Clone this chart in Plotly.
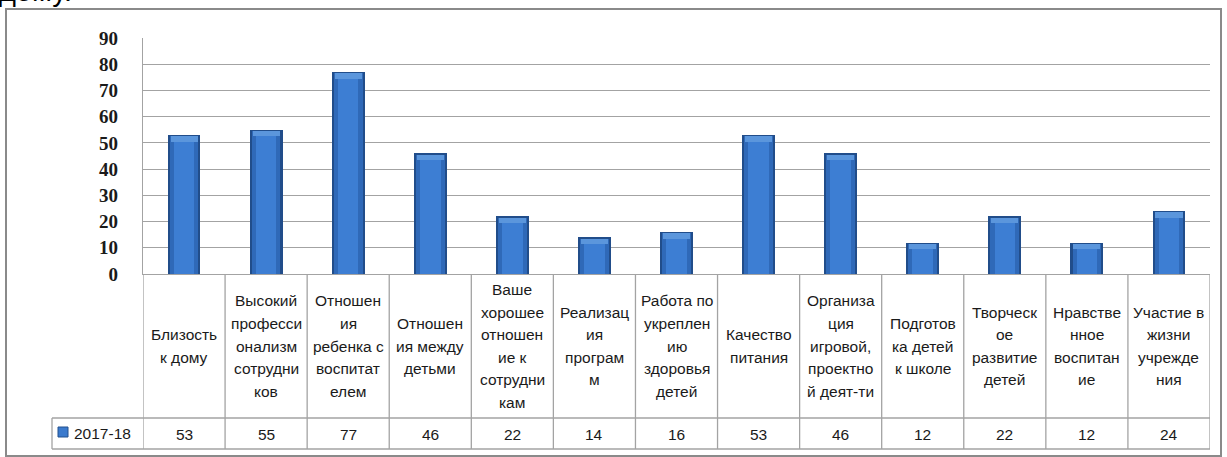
import plotly.graph_objects as go

# ---- data ----
categories = [
    "Близость\nк дому",
    "Высокий\nпрофесси\nонализм\nсотрудни\nков",
    "Отношен\nия\nребенка с\nвоспитат\nелем",
    "Отношен\nия между\nдетьми",
    "Ваше\nхорошее\nотношен\nие к\nсотрудни\nкам",
    "Реализац\nия\nпрограм\nм",
    "Работа по\nукреплен\nию\nздоровья\nдетей",
    "Качество\nпитания",
    "Организа\nция\nигровой,\nпроектно\nй деят-ти",
    "Подготов\nка детей\nк школе",
    "Творческ\nое\nразвитие\nдетей",
    "Нравстве\nнное\nвоспитан\nие",
    "Участие в\nжизни\nучрежде\nния",
]
series_name = "2017-18"
values = [53, 55, 77, 46, 22, 14, 16, 53, 46, 12, 22, 12, 24]
y_ticks = [0, 10, 20, 30, 40, 50, 60, 70, 80, 90]

# ---- layout geometry (pixels) ----
W, H = 1227, 457
L, R, T, B = 143, 1210, 38, 274
pw, ph = R - L, B - T
n = len(categories)

def py_p(py):   # pixel y -> paper y
    return (B - py) / ph

def px_p(px):   # pixel x -> paper x
    return (px - L) / pw

xs = list(range(n))
grid = "#A3A3A3"
tfont = dict(family="Liberation Sans, Arial, sans-serif", size=15.5, color="#1a1a1a")

fig = go.Figure()
# bar body: dark edge, mid tone, lighter core, top bevel highlight
fig.add_trace(go.Bar(x=xs, y=values, width=0.40, marker=dict(color="#214D8A", line=dict(width=0)),
                     name=series_name, showlegend=False, hoverinfo="skip"))
fig.add_trace(go.Bar(x=xs, y=[v - 0.5 for v in values], width=0.35,
                     marker=dict(color="#2F69B8", line=dict(width=0)), showlegend=False, hoverinfo="skip"))
fig.add_trace(go.Bar(x=xs, y=[v - 0.8 for v in values], width=0.25,
                     marker=dict(color="#3D7ED3", line=dict(width=0)), showlegend=False, hoverinfo="skip"))
fig.add_trace(go.Bar(x=xs, y=[2.0] * n, base=[v - 2.5 for v in values], width=0.33,
                     marker=dict(color="#5B96DC", line=dict(width=0)), showlegend=False, hoverinfo="skip"))

shapes = []
line = dict(color=grid, width=1.3)
y_hdr = py_p(418)
y_bot = py_p(449)
# vertical table lines (category boundaries)
for i in range(n + 1):
    shapes.append(dict(type="line", xref="x", yref="paper", x0=i - 0.5, x1=i - 0.5,
                       y0=0, y1=y_bot, line=line, layer="above"))
# horizontal lines of the value row (incl. legend cell)
x_leg = px_p(52)
for yy in (y_hdr, y_bot):
    shapes.append(dict(type="line", xref="paper", yref="paper", x0=x_leg, x1=1,
                       y0=yy, y1=yy, line=line))
shapes.append(dict(type="line", xref="paper", yref="paper", x0=x_leg, x1=x_leg,
                   y0=y_hdr, y1=y_bot, line=line))
# legend marker square
shapes.append(dict(type="rect", xref="paper", yref="paper", x0=px_p(58), x1=px_p(68),
                   y0=py_p(437), y1=py_p(427), fillcolor="#3B7ACD",
                   line=dict(color="#22508E", width=1)))
# outer chart border
shapes.append(dict(type="rect", xref="paper", yref="paper", x0=px_p(6), x1=px_p(1221),
                   y0=py_p(456), y1=py_p(9), line=dict(color="#8A8A8A", width=2)))

annotations = []
line_gap = 22.6 / ph
y_center = py_p(346)
for i, cat in enumerate(categories):
    parts = cat.split("\n")
    k = len(parts)
    for j, p in enumerate(parts):
        yy = y_center + ((k - 1) / 2 - j) * line_gap
        annotations.append(dict(x=i, y=yy, xref="x", yref="paper", text=p, showarrow=False,
                                font=tfont, xanchor="center", yanchor="middle"))
    annotations.append(dict(x=i, y=py_p(434), xref="x", yref="paper", text=str(values[i]),
                            showarrow=False, font=tfont, xanchor="center", yanchor="middle"))
annotations.append(dict(x=px_p(72), y=py_p(433), xref="paper", yref="paper", text=series_name,
                        showarrow=False, font=tfont, xanchor="left", yanchor="middle"))
# text of the surrounding document, cut by the page edge as in the original
annotations.append(dict(x=px_p(-3), y=py_p(9), xref="paper", yref="paper", text="дому.",
                        showarrow=False, xanchor="left", yanchor="bottom",
                        font=dict(family="Liberation Sans, sans-serif", size=29, color="#000")))

fig.update_layout(
    width=W, height=H,
    margin=dict(l=L, r=W - R, t=T, b=H - B, pad=0),
    paper_bgcolor="white", plot_bgcolor="white",
    barmode="overlay", bargap=0,
    showlegend=False,
    shapes=shapes, annotations=annotations,
    xaxis=dict(range=[-0.5, n - 0.5], showticklabels=False, showgrid=False, zeroline=False,
               showline=True, linecolor=grid, linewidth=1.3, ticks="", fixedrange=True),
    yaxis=dict(range=[0, 90], tickvals=y_ticks, showgrid=True, gridcolor=grid, gridwidth=1.3,
               zeroline=False, showline=True, linecolor=grid, linewidth=1.3, ticks="",
               ticklabelstandoff=20,
               tickfont=dict(family="Liberation Serif, Times New Roman, serif", size=19,
                             color="#1a1a1a", weight="bold")),
)

fig.write_html("out.html", config={"displayModeBar": False},
               post_script="document.body.style.margin='0px';")
